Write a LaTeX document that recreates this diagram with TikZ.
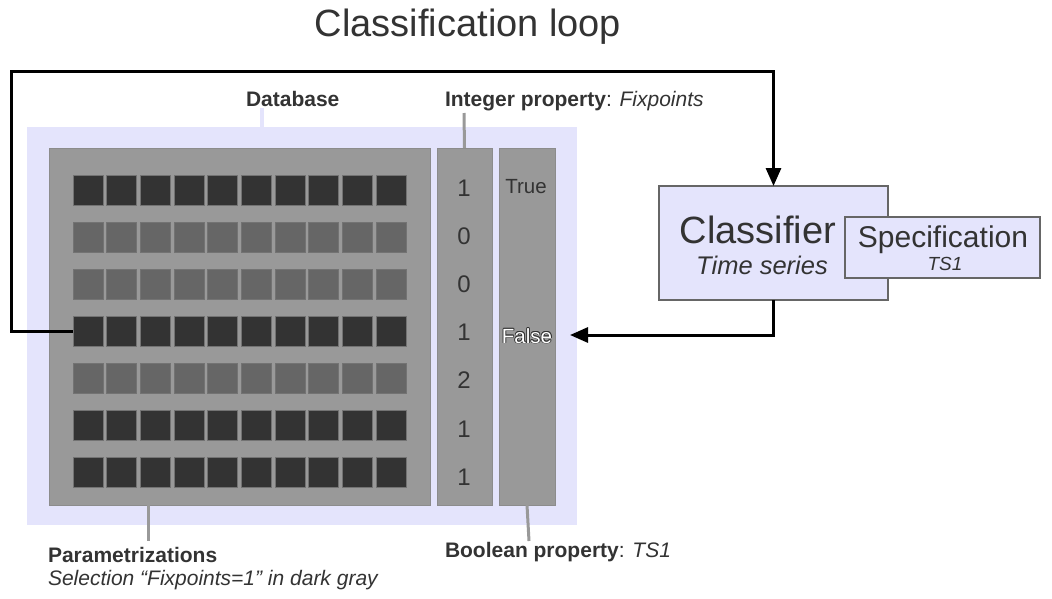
\documentclass[tikz,border=0pt]{standalone}
\usepackage{fontspec}
\setmainfont{Liberation Sans}
\usetikzlibrary{arrows.meta}
\definecolor{lav}{RGB}{228,228,252}
\definecolor{txt}{RGB}{51,51,51}
\definecolor{panel}{RGB}{153,153,153}
\definecolor{panelb}{RGB}{140,140,140}
\definecolor{dk}{RGB}{51,51,51}
\definecolor{md}{RGB}{102,102,102}
\definecolor{boxb}{RGB}{102,102,102}
\begin{document}
\begin{tikzpicture}[x=1pt,y=-1pt,
  every node/.style={text=txt,inner sep=0pt,outer sep=0pt},
  panelbox/.style={fill=panel,draw=panelb,line width=0.6pt,anchor=north west},
  sq/.style={draw=black!55,line width=0.5pt,minimum width=30pt,minimum height=30pt,anchor=north west},
  lbl/.style={font=\fontsize{21}{25}\selectfont,anchor=base west},
  num/.style={font=\fontsize{24}{28}\selectfont,anchor=base},
  lavbox/.style={fill=lav,draw=boxb,line width=1.3pt},
  loopline/.style={line width=3pt,draw=black,-{Triangle[length=18pt,width=15pt]}},
  leader/.style={line width=3pt,draw=panel}
]
\path[use as bounding box,fill=white] (0,0) rectangle (1052,598);

% title
\node[font=\fontsize{38}{45}\selectfont,anchor=base] (title) at (468,36) {Classification loop};

% database background
\node[fill=lav,minimum width=550pt,minimum height=398pt,anchor=north west] (db) at (27,127) {};
\coordinate (dbtop) at (262,127);

% panels
\node[panelbox,minimum width=381pt,minimum height=357pt] (par) at (49,148) {};
\node[panelbox,minimum width=55pt,minimum height=357pt] (int) at (437,148) {};
\node[panelbox,minimum width=56pt,minimum height=357pt] (bool) at (499,148) {};

% squares
\foreach \col [count=\r] in {dk,md,md,dk,md,dk,dk}{
  \foreach \c in {1,...,10}{
    \node[sq,fill=\col] (r\r-\c) at ({73+(\c-1)*33.65},{175+(\r-1)*47}) {};
  }
}

% integer values
\foreach \v [count=\i] in {1,0,0,1,2,1,1}{
  \node[num] (n\i) at (464,{196+(\i-1)*48.2}) {\v};
}

% boolean values
\node[font=\fontsize{20.5}{24}\selectfont,anchor=base] (true) at (526,193) {True};
\foreach \dx/\dy in {-0.8/0,0.8/0,0/-0.8,0/0.8,-0.6/-0.6,0.6/0.6,-0.6/0.6,0.6/-0.6}{
  \node[font=\fontsize{20.5}{24}\selectfont,anchor=base,text=txt] at ({527+\dx},{343+\dy}) {False};
}
\node[font=\fontsize{20.5}{24}\selectfont,anchor=base,text=white] (false) at (527,343) {False};

% labels
\node[lbl] (dblbl) at (246,106) {\textbf{Database}};
\node[lbl] (intlbl) at (445,106) {\textbf{Integer property}: \textit{Fixpoints}};
\node[lbl] (parlbl) at (48,562) {\textbf{Parametrizations}};
\node[lbl] (sellbl) at (48,585) {\textit{Selection “Fixpoints=1” in dark gray}};
\node[lbl] (boollbl) at (445,557) {\textbf{Boolean property}: \textit{TS1}};

% leader lines
\draw[line width=4pt,draw=lav] (dbtop) -- (262,108);
\draw[leader] (int.north) -- (464,113);
\draw[leader] (148,505) -- (148,541);
\draw[leader] (bool.south) -- (529,541);

% classifier
\node[lavbox,minimum width=229pt,minimum height=114pt,anchor=north west] (cls) at (659,186) {};
\node[font=\fontsize{38}{45}\selectfont,anchor=base] (clst) at (758,243) {Classifier};
\node[font=\fontsize{25.5}{30}\selectfont\itshape,anchor=base] (clss) at (762,274) {Time series};
\node[lavbox,minimum width=195pt,minimum height=61pt,anchor=north west] (spec) at (845,217) {};
\node[font=\fontsize{30}{35}\selectfont,anchor=base] (spect) at (943,247) {Specification};
\node[font=\fontsize{19}{23}\selectfont\itshape,anchor=base] (specs) at (945,270) {TS1};

% loop connectors
\coordinate (tl) at (11,71);
\coordinate (ret) at (570,335);
\draw[loopline] (r4-1.west) -| (tl) -| (cls.north);
\draw[loopline] (cls.south) |- (ret);
\end{tikzpicture}
\end{document}
